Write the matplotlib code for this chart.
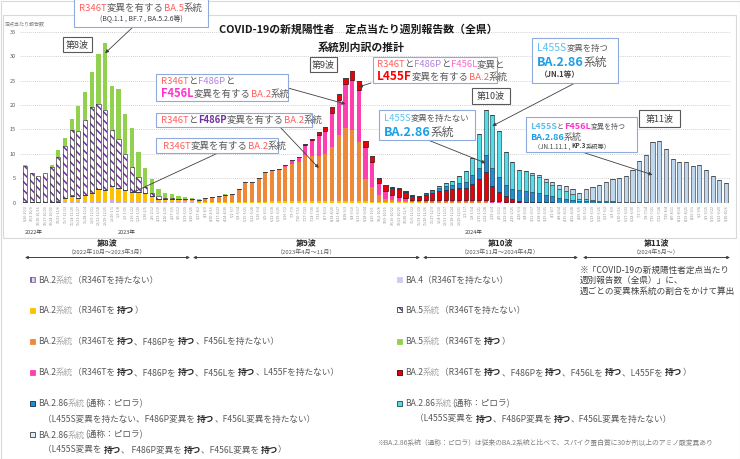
import matplotlib
matplotlib.use('Agg')
import matplotlib.pyplot as plt
from matplotlib.patches import Rectangle
import numpy as np
import datetime as dt

plt.rcParams['font.family'] = ['Noto Sans CJK JP', 'DejaVu Sans']
plt.rcParams['hatch.linewidth'] = 1.1

# ---------------- data (定点当たり報告数, 系統別) ----------------
ba2_no = [.05,.05,.05,.05,.05,.1,.2,.3,.25,.3,
          .4,.4,.4,.6,.3,.3,.3,.2,.1,.1,
          .05,.05,.05,.05,.05,.05,.03,.03,.03,.03,
          .03,.03,.03,.03,.03,.03,.03,.03,.03,.03,
          .03,.03,.03,.03,.03,.03,.03,.03,.03,.03,
          .03,.03,.03,.03,.03,.03,.03,.03,.03,.03,
          0,0,0,0,0,0,0,0,0,0,
          0,0,0,0,0,0,0,0,0,0,
          0,0,0,0,0,0,0,0,0,0,
          0,0,0,0,0,0,0,0,0,0,
          0,0,0,0,0,0]
ba2_r346t = [0,0,0,0,.05,.1,.7,1.15,.75,1.3,
             1.6,2.4,2.1,2.9,2.7,2.3,1.9,2.0,1.9,1.2,
             .75,.65,.55,.45,.35,.3,.2,.2,.15,.15,
             .12,.12,.12,.15,.15,.2,.2,.25,.3,.4,
             .35,.3,.3,.3,.35,.3,.3,.35,.3,.3,
             .3,.25,.15,.1,.05,.03,.03,.03,.03,.03,
             .03,0,0,0,0,0,0,0,0,0,
             0,0,0,0,0,0,0,0,0,0,
             0,0,0,0,0,0,0,0,0,0,
             0,0,0,0,0,0,0,0,0,0,
             0,0,0,0,0,0]
ba2_f486p = [0,0,0,0,0,0,0,0,0,0,
             0,0,0,0,0,0,.05,.05,.05,.05,
             .05,.05,.1,.2,.3,.35,.35,.65,.95,1.2,
             1.5,1.55,2.65,4.1,4.0,4.7,5.9,6.2,6.3,6.8,
             7.6,8.1,9.4,9.3,9.2,9.6,11.0,13.4,15.0,14.5,
             12.0,4.5,3.0,1.4,.7,.4,.3,.2,.1,.1,
             .1,.1,.1,.1,.08,.06,.05,.05,.05,.05,
             .03,0,0,0,0,0,0,0,0,0,
             0,0,0,0,0,0,0,0,0,0,
             0,0,0,0,0,0,0,0,0,0,
             0,0,0,0,0,0]
ba2_f456l = [0,0,0,0,0,0,0,0,0,0,
             0,0,0,0,0,0,0,0,0,0,
             0,0,0,0,0,0,0,0,0,0,
             0,0,.05,.05,.05,.1,.2,.3,.3,.5,
             .75,.9,2.1,3.2,4.2,4.8,7.1,7.3,8.9,10.3,
             10.8,6.6,5.1,2.6,1.6,1.2,.9,.7,.4,.3,
             .35,.4,.45,.5,.5,.5,.5,.6,.6,.6,
             .4,.3,.2,.1,.05,.03,0,0,0,0,
             0,0,0,0,0,0,0,0,0,0,
             0,0,0,0,0,0,0,0,0,0,
             0,0,0,0,0,0]
ba2_l455f = [0,0,0,0,0,0,0,0,0,0,
             0,0,0,0,0,0,0,0,0,0,
             0,0,0,0,0,0,0,0,0,0,
             0,0,0,0,0,0,0,0,0,0,
             0,0,.1,.2,.7,.8,1.2,1.2,1.3,1.8,
             1.8,1.2,1.35,1.0,1.2,1.4,1.5,1.3,.9,.8,
             1.05,1.5,1.9,2.1,2.2,2.4,2.4,3.2,4.3,5.7,
             3.0,1.8,1.2,.6,.4,.2,.15,.1,.1,.05,
             0,0,0,0,0,0,0,0,0,0,
             0,0,0,0,0,0,0,0,0,0,
             0,0,0,0,0,0]
ba286 = [0,0,0,0,0,0,0,0,0,0,
         0,0,0,0,0,0,0,0,0,0,
         0,0,0,0,0,0,0,0,0,0,
         0,0,0,0,0,0,0,0,0,0,
         0,0,0,0,0,0,0,0,0,0,
         0,0,0,0,.05,.1,.2,.2,.2,.2,
         .3,.5,.6,.7,.8,1.0,1.2,1.8,2.2,3.5,
         3.6,3.1,2.3,2.1,2.1,2.2,2.1,1.9,1.5,1.3,
         1.0,.8,.6,.35,.3,.25,.2,.2,.2,.1,
         .05,.03,0,0,0,0,0,0,0,0,
         0,0,0,0,0,0]
ba286_jn1 = [0,0,0,0,0,0,0,0,0,0,
             0,0,0,0,0,0,0,0,0,0,
             0,0,0,0,0,0,0,0,0,0,
             0,0,0,0,0,0,0,0,0,0,
             0,0,0,0,0,0,0,0,0,0,
             0,0,0,0,0,0,0,0,0,0,
             .1,.2,.45,.6,.8,1.5,2.3,3.4,6.95,9.05,
             11.0,9.5,6.7,5.6,4.15,4.0,3.5,3.3,2.7,2.2,
             1.8,1.6,1.1,.5,.4,.3,.25,.2,.15,.1,
             .1,.07,.05,.05,.03,.03,.03,.03,.03,.03,
             .03,.03,.03,.03,.03,.03]
ba286_kp3 = [0,0,0,0,0,0,0,0,0,0,
             0,0,0,0,0,0,0,0,0,0,
             0,0,0,0,0,0,0,0,0,0,
             0,0,0,0,0,0,0,0,0,0,
             0,0,0,0,0,0,0,0,0,0,
             0,0,0,0,0,0,0,0,0,0,
             0,0,0,0,0,0,0,0,0,0,
             0,0,0,0,0,.1,.25,.4,.5,.65,
             .8,1.0,1.2,1.05,2.1,2.75,3.15,3.8,4.45,4.8,
             5.35,6.6,8.45,9.7,12.45,12.5,11.0,8.9,8.2,8.4,
             7.4,7.7,6.7,5.5,4.6,4.0]
ba4 = [.05,.05,.05,.05,.05,.05,.05,.05,.05,0] + [0] * 96
ba5_no = [7.35,6.0,5.3,5.9,7.15,9.1,10.6,13.35,13.7,15.4,
          17.5,17.4,16.5,11.3,10.0,7.4,5.0,3.1,1.2,.6,
          .5,.3,.2,.15,.1,.05,0,0,0,0] + [0] * 76
ba5_r346t = [.2,.05,.05,.05,.5,1.4,1.7,2.2,5.0,5.6,
             7.2,10.2,13.6,9.0,10.3,8.1,8.1,5.0,3.8,2.9,
             1.5,1.0,.8,.55,.35,.3,.2,.15,.1,.05,
             .05,.05] + [0] * 74

n_weeks = len(ba5_no)
first_week = dt.date(2022, 9, 26)
week_labels = []
for k in range(n_weeks):
    s = first_week + dt.timedelta(days=7 * k)
    e = s + dt.timedelta(days=6)
    week_labels.append(f"{s.month}/{s.day}-{e.month}/{e.day}")

yticks = [0, 5, 10, 15, 20, 25, 30, 35]

# ---------------- figure ----------------
W, H = 740, 459
fig = plt.figure(figsize=(W / 100, H / 100), dpi=100)
ax = fig.add_axes([20 / W, 1 - 202.7 / H, 711 / W, 171 / H])
x = np.arange(n_weeks)
bw = 0.62

series = [
    (ba2_no, '#C3B1E6', None, None),
    (ba2_r346t, '#FFC000', None, None),
    (ba2_f486p, '#F0883A', None, None),
    (ba2_f456l, '#FF3FB0', None, None),
    (ba2_l455f, '#E8000B', '#3A0000', None),
    (ba286, '#1F8FD6', '#0B2E4A', None),
    (ba286_jn1, '#55DDE6', '#1B4A55', None),
    (ba286_kp3, '#BDD7EE', '#3F3F3F', None),
    (ba4, '#CCCCF0', None, None),
    (ba5_no, 'white', '#3F3F3F', '\\\\\\\\'),
    (ba5_r346t, '#92D050', None, None),
]
bottom = np.zeros(n_weeks)
for vals, fc, ec, hatch in series:
    v = np.array(vals, dtype=float)
    if hatch:
        ax.bar(x, v, bw, bottom=bottom, facecolor='white', edgecolor='#7030A0',
               hatch=hatch, linewidth=0, zorder=2)
        ax.bar(x, v, bw, bottom=bottom, facecolor='none', edgecolor=ec,
               linewidth=0.5, zorder=3)
    elif ec:
        ax.bar(x, v, bw, bottom=bottom, color=fc, edgecolor=ec, linewidth=0.45, zorder=2)
    else:
        ax.bar(x, v, bw, bottom=bottom, color=fc, linewidth=0, zorder=2)
    bottom += v

ax.set_xlim(-0.749, n_weeks - 1 + 0.749)
ax.set_ylim(0, 35)
for sp in ax.spines.values():
    sp.set_visible(False)
ax.set_yticks(yticks)
ax.yaxis.grid(True, linestyle=(0, (1, 1.5)), color='#C0C0C0', lw=0.6)
ax.set_axisbelow(True)
ax.axhline(0, color='#D0D0D0', lw=0.6, zorder=1)
ax.tick_params(axis='y', length=0, labelsize=4, labelcolor='#595959', pad=3)
ax.set_xticks(x)
ax.set_xticklabels(week_labels, rotation=90, fontsize=2.6, color='#8C8C8C')
ax.tick_params(axis='x', length=0, pad=2)

# ---------------- overlay in pixel coordinates ----------------
ov = fig.add_axes([0, 0, 1, 1])
ov.set_xlim(0, W)
ov.set_ylim(H, 0)
ov.axis('off')
ov.set_zorder(5)

renderer = fig.canvas.get_renderer()

def rich(xp, yc, parts, size=6.5, ha='left'):
    base = yc + 0.36 * size * 100 / 72
    objs = []
    tot = 0
    for p in parts:
        s, c = p[0], p[1]
        wt = p[2] if len(p) > 2 else 'normal'
        sz = p[3] if len(p) > 3 else size
        t = ov.text(0, base, s, color=c, fontweight=wt, fontsize=sz,
                    va='baseline', ha='left', zorder=6)
        w = t.get_window_extent(renderer).width
        objs.append((t, w))
        tot += w
    cx = xp if ha == 'left' else xp - tot / 2
    for t, w in objs:
        t.set_x(cx)
        cx += w

def box(x0, y0, x1, y1, ec='#8FAADC', lw=0.8):
    ov.add_patch(Rectangle((x0, y0), x1 - x0, y1 - y0, facecolor='white',
                           edgecolor=ec, lw=lw, zorder=4))

def arrow(i, v, px, py):
    ax.annotate('', xy=(i, v), xycoords='data', xytext=(px, py),
                textcoords=ov.transData, annotation_clip=False,
                arrowprops=dict(arrowstyle='-|>', color='#404040', lw=0.6,
                                mutation_scale=5, shrinkA=0, shrinkB=0), zorder=7)

# chart frame
ov.add_patch(Rectangle((3, 15), 733, 223, facecolor='none', edgecolor='#D9D9D9', lw=0.8))
ov.add_patch(Rectangle((0.5, 0.5), W - 1, H - 1, facecolor='none', edgecolor='#D9D9D9', lw=0.8))

coral = '#FF5F5F'
gray = '#595959'
lav = '#B482DC'
purp = '#7030A0'
mag = '#FF33CC'
pinkL = '#FF66CC'
red = '#FF0000'
lblue = '#5BC0F0'
blue = '#1A9FE6'
dk = '#404040'

# titles
rich(358, 29, [("COVID-19の新規陽性者　定点当たり週別報告数（全県）", '#1A1A1A', 'bold')], size=7.8, ha='center')
rich(361, 47, [("系統別内訳の推計", '#1A1A1A', 'bold')], size=7.8, ha='center')
rich(5, 24, [("定点当たり報告数", '#7F7F7F')], size=3.6)

# year labels
rich(25, 232, [("2022年", dk)], size=4)
rich(118, 232, [("2023年", dk)], size=4)
rich(465, 232, [("2024年", dk)], size=4)

# annotation boxes
box(74, -1, 208, 27)
rich(141, 8, [("R346T", coral), ("変異を有する", gray), ("BA.5", coral), ("系統", gray)], size=6.8, ha='center')
rich(141, 19, [("(BQ.1.1 , BF.7 , BA.5.2.6等)", dk)], size=5, ha='center')
arrow(12, 30.6, 133, 27)

box(63, 37, 92, 52, ec='#595959')
rich(77.5, 44.5, [("第8波", dk)], size=6.5, ha='center')

box(156, 74, 288, 101)
rich(161, 81, [("R346T", coral), ("と", gray), ("F486P", lav), ("と", gray)], size=6.8)
rich(161, 94, [("F456L", mag, 'bold', 8), ("変異を有する", gray), ("BA.2", coral), ("系統", gray)], size=6.8)
arrow(48, 20.2, 288, 88)

box(156, 113, 312, 127)
rich(161, 120, [("R346T", coral), ("と", gray), ("F486P", purp, 'bold'), ("変異を有する", gray),
                ("BA.2", coral), ("系統", gray)], size=6.8)
arrow(44, 7.1, 280, 127)

box(156, 138, 278, 153)
rich(163, 145.5, [("R346T", coral), ("変異を有する", gray), ("BA.2", coral), ("系統", gray)], size=6.8)
arrow(16, 2.0, 218, 153)

box(310, 57, 337, 72, ec='#595959')
rich(323.5, 64.5, [("第9波", dk)], size=6.5, ha='center')

box(373, 57, 497, 83)
rich(377, 64, [("R346T", coral), ("と", gray), ("F486P", lav), ("と", gray), ("F456L", pinkL), ("変異と", gray)], size=6.8)
rich(377, 77, [("L455F", red, 'bold', 8.5), ("変異を有する", gray), ("BA.2", coral), ("系統", gray)], size=6.8)
arrow(50, 23.7, 371, 83)

box(472, 88, 510, 104, ec='#595959')
rich(491, 96, [("第10波", dk)], size=6.5, ha='center')

box(379, 110, 475, 140)
rich(384, 118, [("L455S", lblue, 'normal', 6.8), ("変異を持たない", gray, 'normal', 6)], size=6.8)
rich(384, 131, [("BA.2.86", blue, 'bold', 9), ("系統", gray, 'normal', 8.5)], size=9)
arrow(69, 8.1, 428, 140)

box(532, 38, 618, 83)
rich(537, 47, [("L455S", lblue, 'normal', 7.5), ("変異を持つ", gray, 'normal', 6)], size=7.5)
rich(537, 61, [("BA.2.86", blue, 'bold', 9), ("系統", gray, 'normal', 8.5)], size=9)
rich(540, 74, [("（JN.1等）", dk, 'bold', 5.5)], size=5.5)
arrow(70, 15.7, 575, 83)

box(526, 117, 637, 152)
rich(530, 126, [("L455S", lblue, 'bold', 6.5), ("と", gray, 'normal', 5), ("F456L", mag, 'bold', 6.5),
                ("変異を持つ", gray, 'normal', 5)], size=6.5)
rich(530, 136.5, [("BA.2.86", blue, 'bold', 6.5), ("系統", gray, 'normal', 6.5)], size=6.5)
rich(534, 146, [("（JN.1.11.1 , ", dk, 'normal', 4.5), ("KP.3", dk, 'bold', 4.5),
                ("系統等）", dk, 'normal', 4.5)], size=4.5)
arrow(94, 5.7, 582, 152)

box(639, 110, 680, 127, ec='#595959')
rich(659.5, 118.5, [("第11波", dk)], size=6.5, ha='center')

# wave periods
waves = [("第8波", "（2022年10月～2023年3月）", 25, 190),
         ("第9波", "（2023年4月～11月）", 193, 420),
         ("第10波", "（2023年11月～2024年4月）", 423, 578),
         ("第11波", "（2024年5月～）", 583, 730)]
for name, period, xa, xb in waves:
    cx = (xa + xb) / 2
    rich(cx, 243, [(name, '#262626', 'bold')], size=5.8, ha='center')
    rich(cx, 252, [(period, gray)], size=4.3, ha='center')
    ov.annotate('', xy=(xb, 257.5), xytext=(xa, 257.5),
                arrowprops=dict(arrowstyle='<|-|>', color='#404040', lw=0.7,
                                mutation_scale=4, shrinkA=0, shrinkB=0))

# legend
lg = '#A6A6A6'
B = '#262626'
def lmark(xm, ym, fc, ec=None, hatch=None, hc=None):
    if hatch:
        ov.add_patch(Rectangle((xm - 2.5, ym - 2.5), 5, 5, facecolor=fc, edgecolor=hc,
                               hatch=hatch, lw=0, zorder=4))
        ov.add_patch(Rectangle((xm - 2.5, ym - 2.5), 5, 5, facecolor='none', edgecolor=ec,
                               lw=0.6, zorder=4))
    else:
        ov.add_patch(Rectangle((xm - 2.5, ym - 2.5), 5, 5, facecolor=fc,
                               edgecolor=ec if ec else fc, lw=0.6, zorder=4))

ls = 6.2
lx, tx, ix = 32.7, 38, 43
lmark(lx, 279.5, '#E6DDF5', ec='#8064A2', hatch='||||', hc='#8064A2')
rich(tx, 279.5, [("BA.2", gray), ("系統", lg), ("（R346Tを持たない）", gray)], size=ls)
lmark(lx, 310, '#FFC000')
rich(tx, 310, [("BA.2", gray), ("系統", lg), ("（R346Tを ", gray), ("持つ", B, 'bold'), ("）", gray)], size=ls)
lmark(lx, 341, '#F0883A')
rich(tx, 341, [("BA.2", gray), ("系統", lg), ("（R346Tを ", gray), ("持つ", B, 'bold'), ("、F486Pを ", gray),
               ("持つ", B, 'bold'), ("、F456Lを持たない）", gray)], size=ls)
lmark(lx, 372, '#FF3FB0')
rich(tx, 372, [("BA.2", gray), ("系統", lg), ("（R346Tを ", gray), ("持つ", B, 'bold'), ("、F486Pを ", gray),
               ("持つ", B, 'bold'), ("、F456Lを ", gray), ("持つ", B, 'bold'), ("、L455Fを持たない）", gray)], size=ls)
lmark(lx, 403, '#1F8FD6', ec='#0B2E4A')
rich(tx, 403, [("BA.2.86", gray), ("系統", lg), ("(通称：ピロラ)", gray)], size=ls)
rich(ix, 418.5, [("（L455S変異を持たない、F486P変異を ", gray), ("持つ", B, 'bold'), ("、F456L変異を持たない）", gray)], size=ls)
lmark(lx, 434.5, '#DDEBF7', ec='#3F3F3F')
rich(tx, 434.5, [("BA.2.86", gray), ("系統", lg), ("(通称：ピロラ)", gray)], size=ls)
rich(ix, 449.5, [("（L455S変異を ", gray), ("持つ", B, 'bold'), ("、 F486P変異を ", gray), ("持つ", B, 'bold'),
                 ("、F456L変異を ", gray), ("持つ", B, 'bold'), ("）", gray)], size=ls)

rx, rtx, rix = 399.3, 405, 415
lmark(rx, 279.5, '#CCCCF0')
rich(rtx, 279.5, [("BA.4", gray), ("（R346Tを持たない）", gray)], size=ls)
lmark(rx, 309.5, 'white', ec='#3F3F3F', hatch='\\\\\\\\', hc='#7030A0')
rich(rtx, 309.5, [("BA.5", gray), ("系統", lg), ("（R346Tを持たない）", gray)], size=ls)
lmark(rx, 341, '#92D050')
rich(rtx, 341, [("BA.5", gray), ("系統", lg), ("（R346Tを ", gray), ("持つ", B, 'bold'), ("）", gray)], size=ls)
lmark(rx, 372, '#E8000B', ec='#3A0000')
rich(rtx, 372, [("BA.2", gray), ("系統", lg), ("（R346Tを ", gray), ("持つ", B, 'bold'), ("、F486Pを ", gray),
                ("持つ", B, 'bold'), ("、F456Lを ", gray), ("持つ", B, 'bold'), ("、L455Fを ", gray),
                ("持つ", B, 'bold'), ("）", gray)], size=ls)
lmark(rx, 403, '#55DDE6', ec='#1B4A55')
rich(rtx, 403, [("BA.2.86", gray), ("系統", lg), ("(通称：ピロラ)", gray)], size=ls)
rich(rix, 418.5, [("（L455S変異を ", gray), ("持つ", B, 'bold'), ("、F486P変異を ", gray), ("持つ", B, 'bold'),
                  ("、F456L変異を持たない）", gray)], size=ls)

rich(580, 269.5, [("※「COVID-19の新規陽性者定点当たり", dk)], size=6.2)
rich(580, 280, [("週別報告数（全県）」に、", dk)], size=6.2)
rich(580, 291, [("週ごとの変異株系統の割合をかけて算出", dk)], size=6.2)
rich(377, 442, [("※BA.2.86系統（通称：ピロラ）は従来のBA.2系統と比べて、スパイク蛋白質に30か所以上のアミノ酸変異あり", '#7F7F7F')], size=4.9)

fig.savefig('out.png', dpi=100)
